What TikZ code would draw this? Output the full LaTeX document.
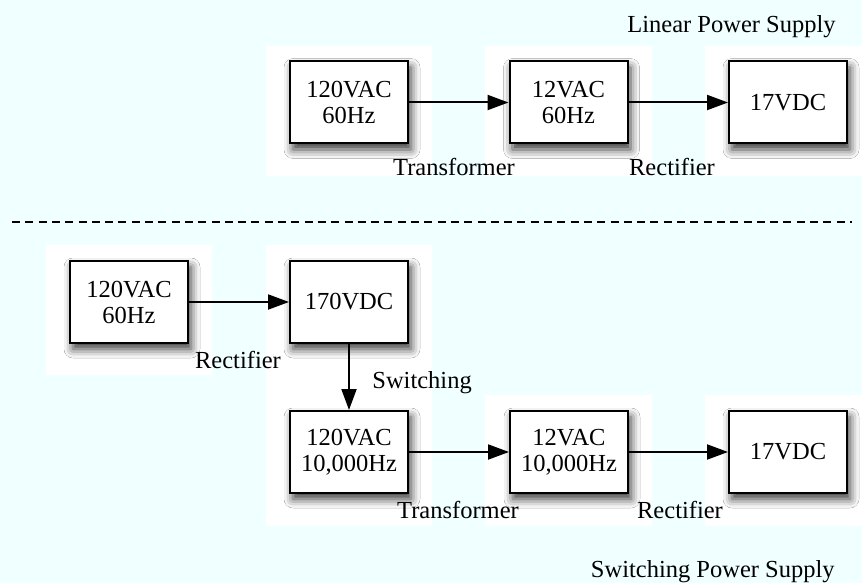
\documentclass[tikz,border=0pt]{standalone}
\usepackage{fontspec}
\setmainfont{Liberation Serif}
\usetikzlibrary{arrows.meta,shadows.blur}
\definecolor{bgcyan}{RGB}{240,255,255}
\tikzset{
  txt/.style={font=\fontsize{12.25pt}{13pt}\selectfont, inner sep=0pt},
  blk/.style={draw=black, line width=1pt, fill=white, minimum width=59pt, minimum height=41pt,
    align=center, font=\fontsize{12.25pt}{13pt}\selectfont, inner sep=0pt,
    blur shadow={shadow xshift=1.5pt, shadow yshift=-3pt, shadow blur radius=4.5pt, shadow opacity=80}},
  conn/.style={line width=1pt, -{Triangle[length=10.5pt,width=7.5pt]}},
  patch/.style={fill=white, draw=none}
}
\begin{document}
\begin{tikzpicture}[x=0.5pt,y=-0.5pt]
\useasboundingbox (0,0) rectangle (862,583);
\fill[bgcyan] (0,0) rectangle (862,583);
% white patches
\fill[patch] (266,46) rectangle (432,176);
\fill[patch] (485,46) rectangle (652,176);
\fill[patch] (705,46) rectangle (862,176);
\fill[patch] (46,245) rectangle (212,375);
\fill[patch] (266,245) rectangle (432,526);
\fill[patch] (485,395) rectangle (652,526);
\fill[patch] (705,395) rectangle (862,526);
% title
\node[txt, anchor=base east] (lps) at (836,33) {Linear Power Supply};
% top row
\node[blk] (a) at (349,102.5) {120VAC\\60Hz};
\node[blk] (b) at (568.5,102.5) {12VAC\\60Hz};
\node[blk] (c) at (788,102.5) {17VDC};
\draw[conn] (a) -- (b);
\draw[conn] (b) -- (c);
\node[txt, anchor=base] (t1) at (454,176) {Transformer};
\node[txt, anchor=base] (r1) at (672,176) {Rectifier};
% divider
\coordinate (dl) at (12,222);
\coordinate (dr) at (852,222);
\draw[line width=1pt, dash pattern=on 4pt off 2.65pt] (dl) -- (dr);
% bottom
\node[blk] (d) at (129,302) {120VAC\\60Hz};
\node[blk] (e) at (349,302) {170VDC};
\node[blk] (f) at (349,452) {120VAC\\10,000Hz};
\node[blk] (g) at (569,452) {12VAC\\10,000Hz};
\node[blk] (h) at (788,452) {17VDC};
\draw[conn] (d) -- (e);
\draw[conn] (e) -- (f);
\draw[conn] (f) -- (g);
\draw[conn] (g) -- (h);
\node[txt, anchor=base] (r2) at (238,368) {Rectifier};
\node[txt, anchor=base west] (sw) at (372,388) {Switching};
\node[txt, anchor=base] (t2) at (458,518) {Transformer};
\node[txt, anchor=base] (r3) at (680,518) {Rectifier};
\node[txt, anchor=base east] (sps) at (835,577) {Switching Power Supply};
\end{tikzpicture}
\end{document}
